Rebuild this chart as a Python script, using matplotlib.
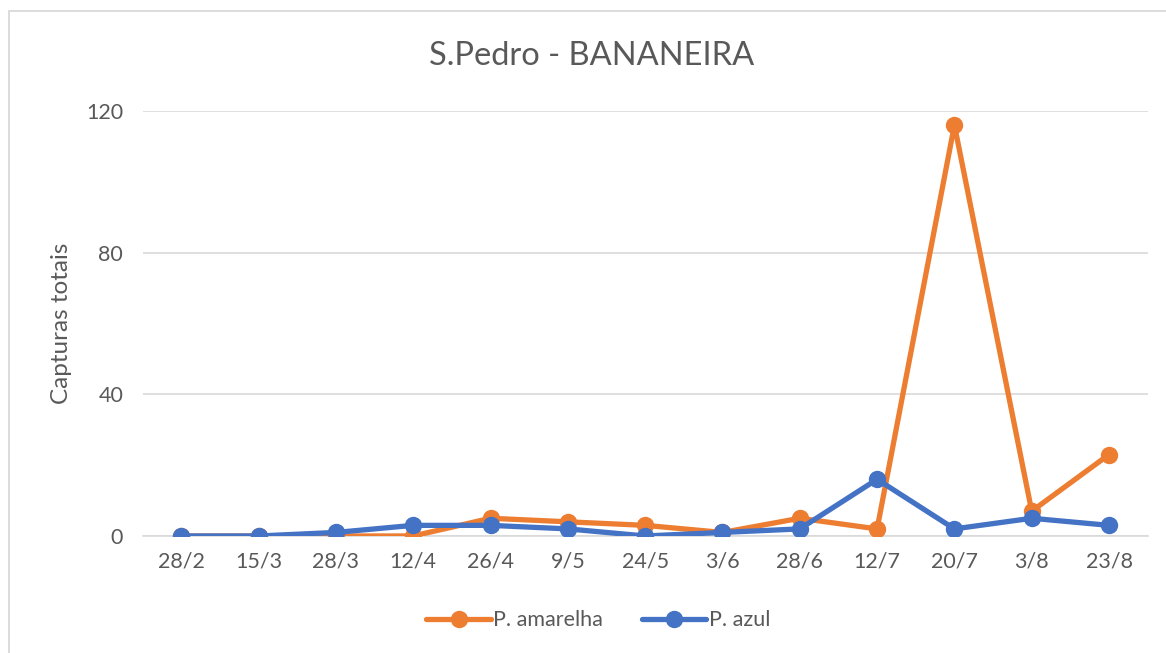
import matplotlib; matplotlib.use('Agg')
import matplotlib.pyplot as plt
from matplotlib.patches import Rectangle

# Data
datas = ['28/2', '15/3', '28/3', '12/4', '26/4', '9/5', '24/5', '3/6', '28/6', '12/7', '20/7', '3/8', '23/8']
p_amarelha = [0, 0, 0, 0, 5, 4, 3, 1, 5, 2, 116, 7, 23]
p_azul = [0, 0, 1, 3, 3, 2, 0, 1, 2, 16, 2, 5, 3]

plt.rcParams['font.family'] = ['Lato', 'DejaVu Sans']
cinza = '#595959'

fig = plt.figure(figsize=(11.66, 6.53), dpi=100)
fig.patches.append(Rectangle((9 / 1166, -0.1), 1.2, (653 - 11) / 653 + 0.1,
                             transform=fig.transFigure, fill=False,
                             edgecolor='#D9D9D9', linewidth=1.3))
ax = fig.add_axes([0.1223, 0.1792, 0.862, 0.651])

x = range(len(datas))
ax.plot(x, p_amarelha, color='#ED7D31', linewidth=3.8, marker='o', markersize=11.5,
        label='P. amarelha', solid_capstyle='round', zorder=3)
ax.plot(x, p_azul, color='#4472C4', linewidth=3.8, marker='o', markersize=11.5,
        label='P. azul', solid_capstyle='round', zorder=4)

ax.set_xlim(-0.5, len(datas) - 0.5)
ax.set_ylim(0, 120)
ax.set_yticks([0, 40, 80, 120])
ax.set_xticks(list(x))
ax.set_xticklabels(datas)
ax.grid(axis='y', color='#D9D9D9', linewidth=1.2)
ax.set_axisbelow(True)
for s in ['top', 'right', 'left']:
    ax.spines[s].set_visible(False)
ax.spines['bottom'].set_color('#D9D9D9')
ax.spines['bottom'].set_linewidth(1.2)
ax.tick_params(axis='both', length=0, labelsize=15.5, labelcolor=cinza)
ax.tick_params(axis='x', pad=11)
ax.tick_params(axis='y', pad=14)
ax.set_ylabel('Capturas totais', fontsize=17.5, color=cinza, labelpad=10)

fig.text(0.507, 0.915, 'S.Pedro - BANANEIRA', ha='center', va='center', fontsize=23.5, color=cinza)
fig.legend(loc='center', bbox_to_anchor=(0.513, 0.05), ncol=2, frameon=False,
           fontsize=15.5, labelcolor=cinza, handlelength=3.0, handletextpad=0.1,
           columnspacing=1.8)

fig.savefig('out.png', dpi=100)
